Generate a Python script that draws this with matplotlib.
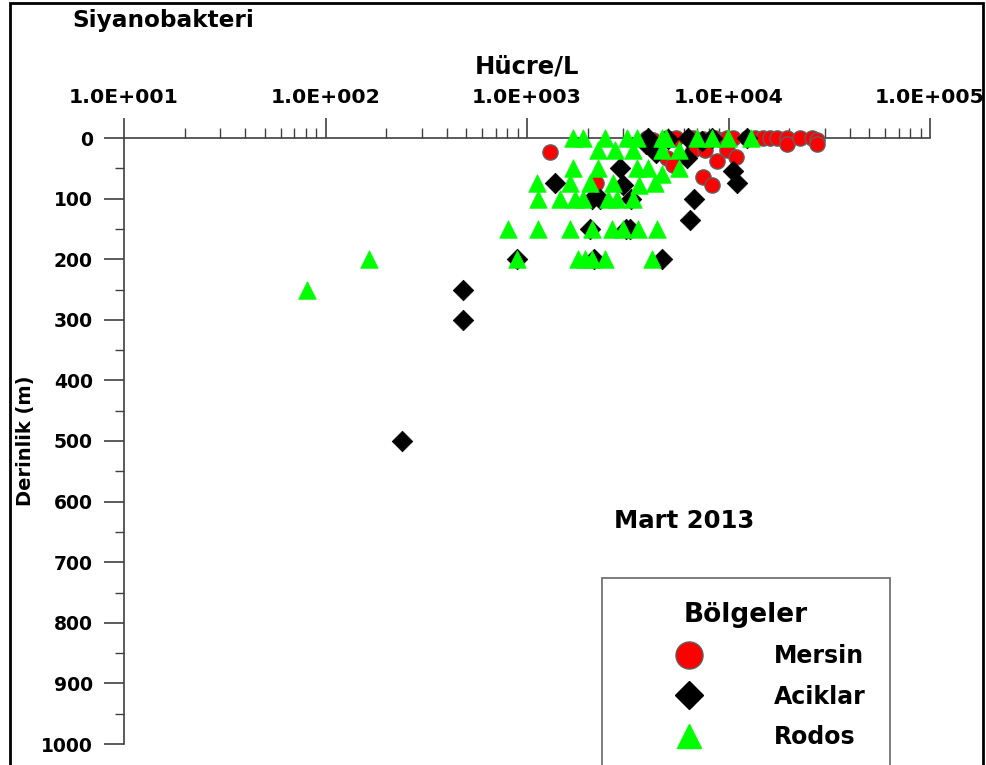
import numpy as np
import matplotlib
matplotlib.use("Agg")
import matplotlib.pyplot as plt
from matplotlib.ticker import FixedLocator, FuncFormatter, LogLocator, NullFormatter, MultipleLocator
from matplotlib.lines import Line2D
from matplotlib.patches import Rectangle

plt.rcParams['font.family'] = ['DejaVu Sans']
plt.rcParams['font.weight'] = 'bold'

# ---------------- data ----------------
mersin_x = [1300, 3950, 4200, 4950, 5300, 5500, 6670, 7470, 8270, 8530, 9300, 9840,
            10500, 12300, 13500, 14800, 16100, 17500, 19500, 19500, 22600, 25900,
            27500, 27500, 6670, 7640, 9840, 10900, 4950, 5310, 7470, 8270, 2200, 8800]
mersin_d = [23, 0, 3, 0, 2, 0, 0, 2, 0, 0, 3, 0,
            0, 0, 0, 0, 0, 0, 0, 10, 0, 0,
            3, 10, 20, 20, 20, 31, 33, 45, 64, 77, 74, 38]

aciklar_x = [240, 480, 480, 890, 1380, 2100, 2050, 2150, 2880, 3000, 3100, 3250,
             4680, 6440, 6750, 10500, 11000, 4370, 3900, 4000, 5000, 6280, 7400,
             8270, 12300, 6200, 3300, 2300]
aciklar_d = [500, 250, 300, 200, 75, 100, 150, 200, 50, 77, 150, 150,
             200, 135, 100, 55, 75, 25, 10, 0, 2, 0, 5,
             0, 0, 33, 100, 100]

rodos_x = [81, 164, 891, 1790, 1940, 2100, 2440, 4170,
           805, 1135, 1633, 2100, 2630, 3000, 3550, 4420,
           1135, 1460, 1730, 1900, 2520, 2800, 3360,
           1120, 1630, 2050, 2680, 4330, 3600,
           1700, 2260, 3530, 4000, 4700, 5700,
           2250, 2740, 3360, 4700, 5700,
           1700, 1900, 2440, 3130, 3530, 4660, 4870, 7000, 8260, 9960, 12900]
rodos_d = [250, 200, 200, 200, 200, 200, 200, 200,
           150, 150, 150, 150, 150, 150, 150, 150,
           100, 100, 100, 100, 100, 100, 100,
           75, 75, 75, 75, 75, 77,
           50, 50, 50, 50, 60, 50,
           20, 20, 20, 20, 20,
           0, 0, 0, 0, 0, 0, 0, 0, 0, 0, 0]

x_ticks = [10, 100, 1000, 10000, 100000]
y_ticks = [0, 100, 200, 300, 400, 500, 600, 700, 800, 900, 1000]
series_names = ["Mersin", "Aciklar", "Rodos"]

# ---------------- figure ----------------
W, H = 986, 765
fig = plt.figure(figsize=(W / 100, H / 100), dpi=100)
ax = fig.add_axes([124 / W, 1 - 744 / H, 806 / W, 606 / H])

spine_col = '#404040'
ax.scatter(mersin_x, mersin_d, s=120, marker='o', facecolor='#ff0000',
           edgecolor='#606060', linewidth=1.0, clip_on=False, zorder=3)
ax.scatter(aciklar_x, aciklar_d, s=110, marker='D', facecolor='black',
           edgecolor='black', linewidth=0.5, clip_on=False, zorder=4)
ax.scatter(rodos_x, rodos_d, s=160, marker='^', facecolor='#00ff00',
           edgecolor='#00ff00', linewidth=0.5, clip_on=False, zorder=5)

ax.set_xscale('log')
ax.set_xlim(10, 100000)
ax.set_ylim(1000, 0)

ax.spines['right'].set_visible(False)
ax.spines['bottom'].set_visible(False)
for s in ('top', 'left'):
    ax.spines[s].set_color(spine_col)
    ax.spines[s].set_linewidth(1.2)

ax.xaxis.tick_top()
ax.xaxis.set_major_locator(FixedLocator(x_ticks))
ax.xaxis.set_minor_locator(LogLocator(base=10, subs=np.arange(2, 10)))
ax.xaxis.set_minor_formatter(NullFormatter())
ax.xaxis.set_major_formatter(FuncFormatter(lambda v, p: "1.0E+%03d" % int(round(np.log10(v)))))
ax.yaxis.set_major_locator(FixedLocator(y_ticks))
ax.yaxis.set_minor_locator(MultipleLocator(50))

ax.tick_params(axis='x', which='major', direction='out', length=14.5, width=1.2,
               color=spine_col, labelsize=14.7, pad=8)
ax.tick_params(axis='x', which='minor', direction='out', length=7.5, width=1.0,
               color=spine_col)
ax.tick_params(axis='y', which='major', direction='out', length=14.5, width=1.2,
               color=spine_col, labelsize=13.5, pad=8)
ax.tick_params(axis='y', which='minor', direction='out', length=6.5, width=1.0,
               color=spine_col)
for lab in ax.get_xticklabels() + ax.get_yticklabels():
    lab.set_fontweight('bold')

ax.set_xlabel("Hücre/L", fontsize=17.5, fontweight='bold')
ax.xaxis.set_label_position('top')
ax.xaxis.set_label_coords(0.5, (744 - 74) / 606)
ax.set_ylabel("Derinlik (m)", fontsize=14, fontweight='bold')
ax.yaxis.set_label_coords((35 - 124) / 806, 0.5)

fig.text(72 / W, 1 - 20 / H, "Siyanobakteri", fontsize=16.7, fontweight='bold',
         ha='left', va='center')
fig.text(684 / W, 1 - 521 / H, "Mart 2013", fontsize=17.6,
         fontweight='bold', ha='center', va='center')

# legend
handles = [
    Line2D([], [], linestyle='none', marker='o', markersize=19.5,
           markerfacecolor='#ff0000', markeredgecolor='#606060', markeredgewidth=1.0),
    Line2D([], [], linestyle='none', marker='D', markersize=14,
           markerfacecolor='black', markeredgecolor='black'),
    Line2D([], [], linestyle='none', marker='^', markersize=17.5,
           markerfacecolor='#00ff00', markeredgecolor='#00ff00'),
]
leg = ax.legend(handles, series_names, title="Bölgeler", loc='upper left',
                bbox_to_anchor=(602 / W, 1 - 578 / H), bbox_transform=fig.transFigure,
                prop={'size': 17, 'weight': 'bold'},
                title_fontproperties={'size': 19, 'weight': 'bold'},
                frameon=True, fancybox=False, borderpad=1.0, handlelength=5.4,
                handletextpad=0.9, labelspacing=0.7, borderaxespad=0)
leg.get_frame().set_edgecolor('#505050')
leg.get_frame().set_linewidth(1.3)
leg.set_clip_on(False)

# outer frame
fig.patches.append(Rectangle((10 / W, -0.05), (983 - 10) / W, 1.05 - 3 / H,
                             transform=fig.transFigure, fill=False,
                             edgecolor='black', linewidth=2.0, zorder=10))

fig.savefig("out.png", dpi=100)
